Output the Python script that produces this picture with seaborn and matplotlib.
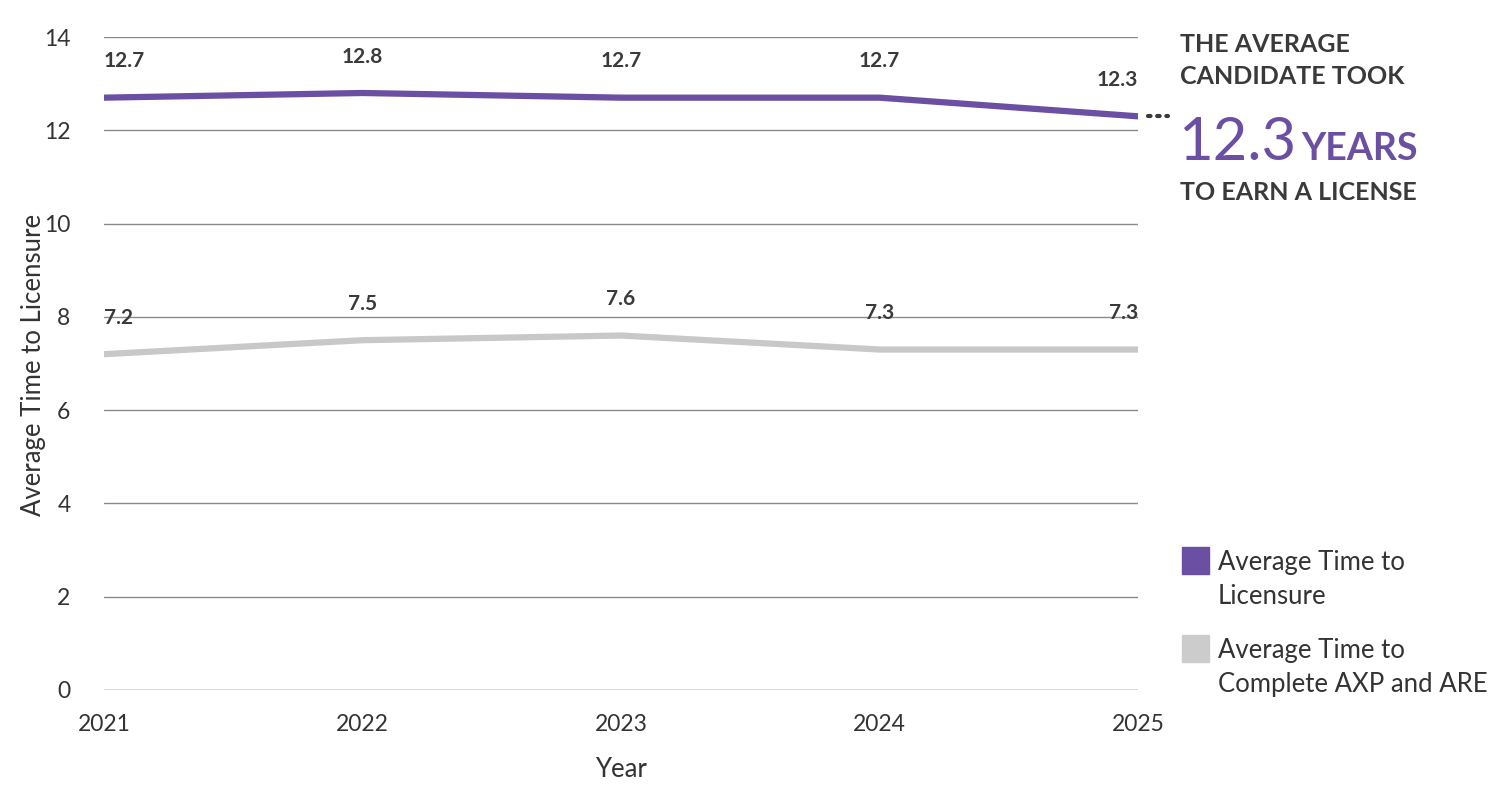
import pandas as pd
import matplotlib.pyplot as plt
from matplotlib.patches import Rectangle
import seaborn as sns

# chart values
years = [2021, 2022, 2023, 2024, 2025]
licensure = [12.7, 12.8, 12.7, 12.7, 12.3]
axp_are = [7.2, 7.5, 7.6, 7.3, 7.3]
series_names = ['Average Time to\nLicensure', 'Average Time to\nComplete AXP and ARE']
y_ticks = [0, 2, 4, 6, 8, 10, 12, 14]

purple = '#6a4fa3'
grey_line = '#c8c8c8'
dark = '#3a3a3a'

df = pd.DataFrame({
    'Year': years * 2,
    'Value': licensure + axp_are,
    'Series': [series_names[0]] * len(years) + [series_names[1]] * len(years),
})

sns.set_style('white')
plt.rcParams['font.family'] = ['Lato', 'DejaVu Sans']

fig = plt.figure(figsize=(15, 7.93), dpi=100)
ax = fig.add_axes([0.0693, 0.1299, 0.6894, 0.8234])

sns.lineplot(data=df, x='Year', y='Value', hue='Series',
             palette=[purple, grey_line], linewidth=4.5, ax=ax, legend=False)

ax.set_xlim(2021, 2025)
ax.set_ylim(0, 14)
ax.set_xticks(years)
ax.set_yticks(y_ticks)
ax.tick_params(axis='both', length=0, labelsize=16.5, labelcolor='#333333')
ax.tick_params(axis='y', pad=24)
ax.tick_params(axis='x', pad=17)
ax.grid(axis='y', color='#8a8a8a', linewidth=1)
ax.set_axisbelow(True)
ax.get_ygridlines()[0].set_color('#d4d4d4')
ax.get_ygridlines()[0].set_linewidth(2)
for s in ax.spines.values():
    s.set_visible(False)

ax.set_xlabel('Year', fontsize=18.5, color='#333333', labelpad=16)
ax.set_ylabel('Average Time to Licensure', fontsize=18.5, color='#333333')
ax.yaxis.set_label_coords(-0.056, 0.498)

# value labels
for vals in (licensure, axp_are):
    for i, (x, v) in enumerate(zip(years, vals)):
        ha = 'left' if i == 0 else ('right' if i == len(years) - 1 else 'center')
        ax.annotate(f'{v:.1f}', (x, v), xytext=(0, 19), textcoords='offset points',
                    ha=ha, va='bottom', fontsize=15, fontweight='bold', color=dark,
                    annotation_clip=False)

# dotted leader to callout
ax.annotate('', xy=(1168 / 1500, 1 - 116 / 793), xycoords='figure fraction',
            xytext=(1148 / 1500, 1 - 116 / 793), textcoords='figure fraction',
            arrowprops=dict(arrowstyle='-', linestyle=(0, (0.6, 1.6)), color=dark,
                            linewidth=3, shrinkA=0, shrinkB=0))

# callout text
fig.text(1180 / 1500, 1 - 45 / 793, 'THE AVERAGE', fontsize=18, fontweight='bold',
         color=dark, va='center', ha='left')
fig.text(1180 / 1500, 1 - 76 / 793, 'CANDIDATE TOOK', fontsize=18, fontweight='bold',
         color=dark, va='center', ha='left')
fig.text(1178 / 1500, 1 - 160 / 793, '12.3', fontsize=43, color=purple, va='baseline',
         ha='left')
fig.text(1301 / 1500, 1 - 160 / 793, 'YEARS', fontsize=27, fontweight='bold',
         color=purple, va='baseline', ha='left')
fig.text(1180 / 1500, 1 - 193 / 793, 'TO EARN A LICENSE', fontsize=18, fontweight='bold',
         color=dark, va='center', ha='left')

# legend
for (y_top, col, name) in [(547, purple, series_names[0]), (635, '#cccccc', series_names[1])]:
    fig.patches.append(Rectangle((1182 / 1500, 1 - (y_top + 27) / 793), 27 / 1500, 27 / 793,
                                 transform=fig.transFigure, color=col, figure=fig))
    fig.text(1218 / 1500, 1 - (y_top + 3) / 793, name, fontsize=18.5, color='#333333',
             va='top', ha='left', linespacing=1.45)

fig.savefig('out.png', dpi=100)
